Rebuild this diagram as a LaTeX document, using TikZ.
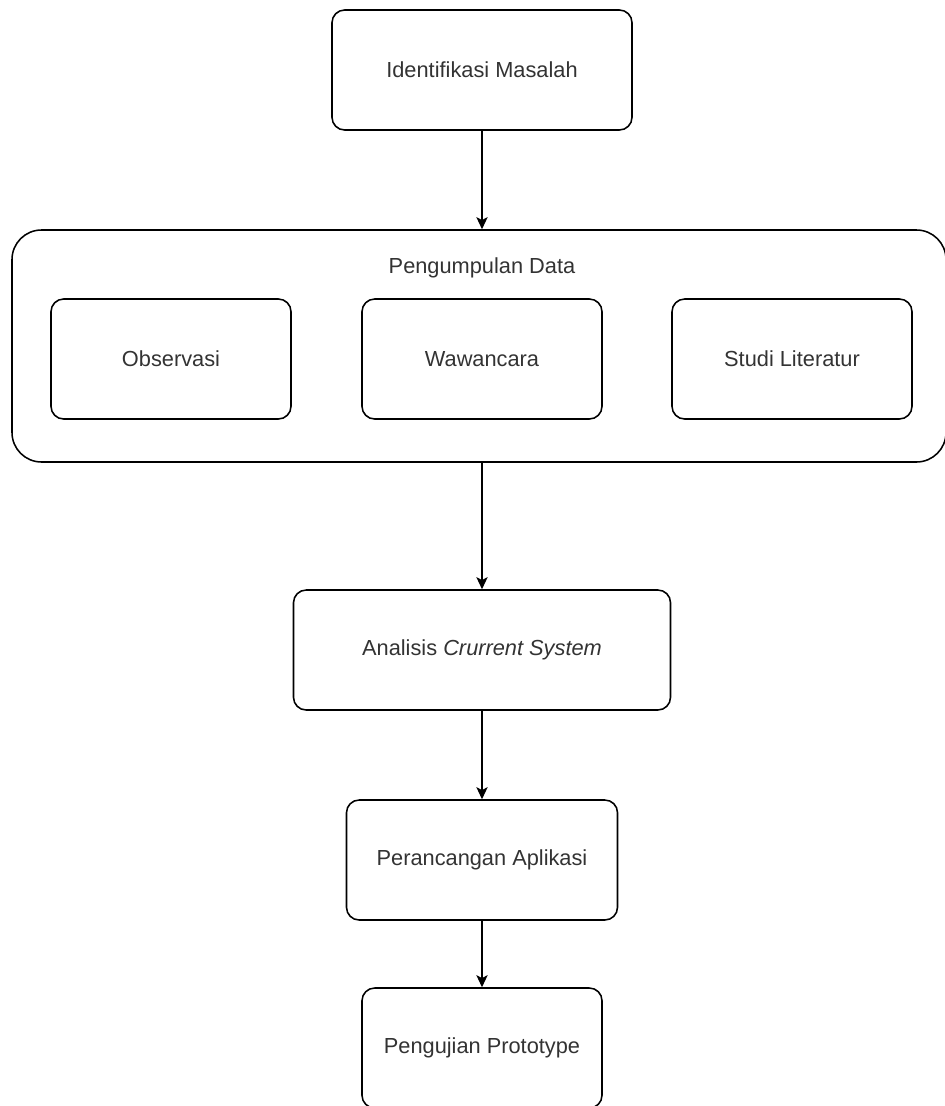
\documentclass[tikz,border=0pt]{standalone}
\usepackage{fontspec}
\setmainfont{Liberation Sans}
\usepackage{tikz}
\usetikzlibrary{arrows.meta,positioning}

\begin{document}
\begin{tikzpicture}[
        stage/.style={draw, line width=1.1pt, rounded corners=9pt, align=center,
          minimum height=3cm, text=black!80, font=\fontsize{15.5pt}{18pt}\selectfont},
        group/.style={draw, line width=1.1pt, rounded corners=21pt,
          minimum width=23.35cm, minimum height=5.8cm},
        flow/.style={-{Stealth[length=3mm, width=2.8mm, inset=0.7mm]}, line width=1.1pt},
        grouptitle/.style={text=black!80, font=\fontsize{15.5pt}{18pt}\selectfont, inner sep=0pt}
      ]
      \useasboundingbox (0,0) rectangle (23.6,-27.65);

      \node[stage, minimum width=7.5cm] (ident) at (12.05,-1.75) {Identifikasi Masalah};

      % pengumpulan data
      \node[group] (kumpul) at (11.975,-8.65) {};
      \node[grouptitle] (kumpultitle) at (12.05,-6.7) {Pengumpulan Data};
      \node[stage, minimum width=6cm] (obs) at (4.275,-8.975) {Observasi};
      \node[stage, minimum width=6cm] (wawan) at (12.05,-8.975) {Wawancara};
      \node[stage, minimum width=6cm] (studi) at (19.8,-8.975) {Studi Literatur};

      \node[stage, minimum width=9.425cm] (analisis) at (12.05,-16.25) {Analisis \textit{Crurrent System}};
      \node[stage, minimum width=6.775cm] (rancang) at (12.05,-21.5) {Perancangan Aplikasi};
      \node[stage, minimum width=6cm] (uji) at (12.05,-26.2) {Pengujian Prototype};

      \draw[flow] (ident.south) -- (ident.south |- kumpul.north);
      \draw[flow] (ident.south |- kumpul.south) -- (analisis.north);
      \draw[flow] (analisis.south) -- (rancang.north);
      \draw[flow] (rancang.south) -- (uji.north);
    \end{tikzpicture}
\end{document}
